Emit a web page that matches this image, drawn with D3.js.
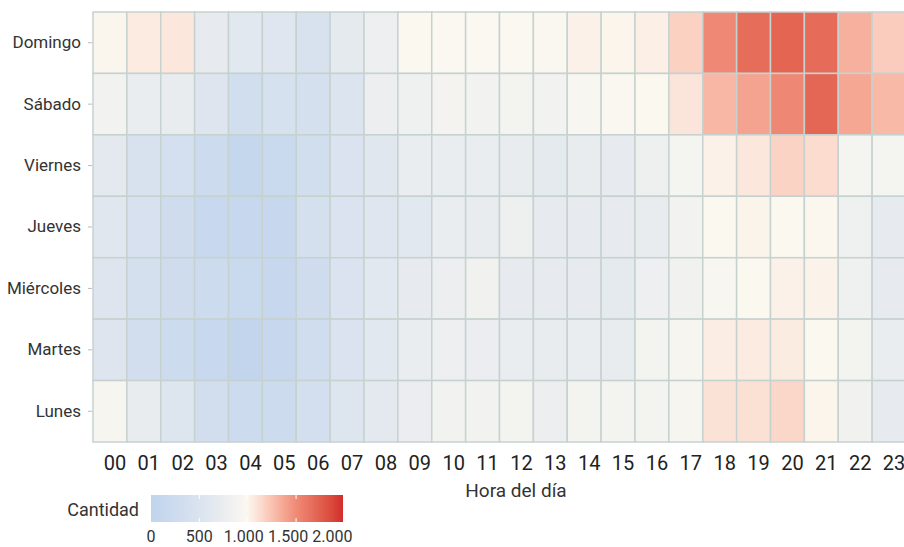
<!DOCTYPE html>
<html>
<head>
<meta charset="utf-8">
<script src="https://cdn.jsdelivr.net/npm/d3@7/dist/d3.min.js"></script>
<style>
  html, body { margin: 0; padding: 0; background: #fff; }
  svg { display: block; font-family: Roboto, "Noto Sans", sans-serif; }
</style>
</head>
<body>
<svg id="chart" width="904" height="547"></svg>
<script>
// ---- data ----
const days = ["Domingo", "Sábado", "Viernes", "Jueves", "Miércoles", "Martes", "Lunes"];
const hours = ["00","01","02","03","04","05","06","07","08","09","10","11",
               "12","13","14","15","16","17","18","19","20","21","22","23"];
const domingo   = [1010,1060,1080,700,610,580,470,670,780,1000,990,990, 990,985,1030,1015,1040,1180,1510,1670,1720,1680,1330,1200];
const sabado    = [870,730,720,560,320,430,400,530,770,820,890,870, 880,860,950,970,1000,1090,1300,1390,1520,1710,1370,1290];
const viernes   = [650,470,380,220,90,180,320,500,590,730,730,730, 720,670,720,700,800,900,1030,1080,1170,1130,900,900];
const jueves    = [590,450,280,150,130,130,400,500,580,620,730,720, 800,700,700,700,710,870,1000,1020,1000,1005,820,700];
const miercoles = [560,400,280,240,170,130,280,500,610,690,770,840, 700,690,700,670,790,850,960,1000,1030,1025,810,700];
const martes    = [560,340,240,150,50,130,300,500,610,730,790,750, 730,720,730,720,880,930,1050,1060,1055,1000,880,730];
const lunes     = [930,720,550,340,220,220,360,550,640,750,870,860, 880,770,880,880,880,940,1100,1110,1150,1015,840,700];
const seriesByDay = [domingo, sabado, viernes, jueves, miercoles, martes, lunes];
const legendTicks = [0, 500, 1000, 1500, 2000];
const legendMax = 1985;
const xTitle = "Hora del día";
const legendTitle = "Cantidad";

// ---- build ----
(function () {
const cells = [];
days.forEach((d, i) => hours.forEach((h, j) => cells.push({ day: d, hour: h, value: seriesByDay[i][j] })));

const svg = d3.select("#chart");
const mLeft = 93, mRight = 906, mTop = 12, mBottom = 442;

const x = d3.scaleBand().domain(hours).range([mLeft, mRight]).padding(0);
const y = d3.scaleBand().domain(days).range([mTop, mBottom]).padding(0);

const color = d3.scaleLinear()
  .domain([0, 500, 1000, 1500, 2000])
  .range(["#c0d4ed", "#dae3ef", "#fbf8f0", "#ef8a76", "#d12828"])
  .interpolate(d3.interpolateLab)
  .clamp(true);

const fmt = d3.formatLocale({ decimal: ",", thousands: ".", grouping: [3], currency: ["", ""] }).format(",d");

// cells
svg.append("g").selectAll("rect").data(cells).join("rect")
  .attr("x", d => x(d.hour))
  .attr("y", d => y(d.day))
  .attr("width", x.bandwidth())
  .attr("height", y.bandwidth())
  .attr("fill", d => color(d.value))
  .attr("stroke", "#c6d2d0")
  .attr("stroke-width", 1.5);

// y axis
const yAxis = svg.append("g").attr("transform", `translate(${mLeft},0)`)
  .call(d3.axisLeft(y).tickSize(4).tickPadding(8));
yAxis.select(".domain").remove();
yAxis.selectAll(".tick line").attr("stroke", "#bbb").attr("transform", "translate(-1,0)");
yAxis.selectAll(".tick text").attr("fill", "#333").style("font-size", "17px").style("font-family", "Roboto, sans-serif");

// x axis
const xAxis = svg.append("g").attr("transform", `translate(0,${mBottom})`)
  .call(d3.axisBottom(x).tickSize(0).tickPadding(14));
xAxis.select(".domain").remove();
xAxis.selectAll(".tick text").attr("fill", "#222").attr("dx", 5)
  .style("font-size", "20px").style("font-family", "Roboto, sans-serif");

svg.append("text")
  .attr("x", 516).attr("y", 497)
  .attr("text-anchor", "middle").attr("fill", "#333")
  .style("font-size", "19px").text(xTitle);

// legend
const lx0 = 151, lx1 = 343, ly0 = 495, ly1 = 522;
const ls = d3.scaleLinear().domain([0, legendMax]).range([lx0, lx1]);
const defs = svg.append("defs");
const grad = defs.append("linearGradient").attr("id", "lg").attr("x1", "0%").attr("x2", "100%");
d3.range(0, 21).forEach(i => {
  const v = legendMax * i / 20;
  grad.append("stop").attr("offset", (i * 5) + "%").attr("stop-color", color(v));
});
svg.append("rect").attr("x", lx0).attr("y", ly0).attr("width", lx1 - lx0).attr("height", ly1 - ly0)
  .attr("fill", "url(#lg)");
legendTicks.filter(t => t > 0 && t < legendMax).forEach(t => {
  svg.append("line").attr("x1", ls(t)).attr("x2", ls(t)).attr("y1", ly0).attr("y2", ly0 + 4)
    .attr("stroke", "#fff").attr("stroke-width", 1);
  svg.append("line").attr("x1", ls(t)).attr("x2", ls(t)).attr("y1", ly1 - 4).attr("y2", ly1)
    .attr("stroke", "#fff").attr("stroke-width", 1);
});
svg.append("g").selectAll("text").data(legendTicks).join("text")
  .attr("x", (d, i) => ls(d) - (i >= 2 ? (i - 1) * 4 : 0))
  .attr("y", 542)
  .attr("text-anchor", "middle").attr("fill", "#333")
  .style("font-size", "16px")
  .text(d => fmt(d));
svg.append("text").attr("x", 139).attr("y", 516).attr("text-anchor", "end")
  .attr("fill", "#333").style("font-size", "18px").text(legendTitle);
})();
</script>
</body>
</html>
